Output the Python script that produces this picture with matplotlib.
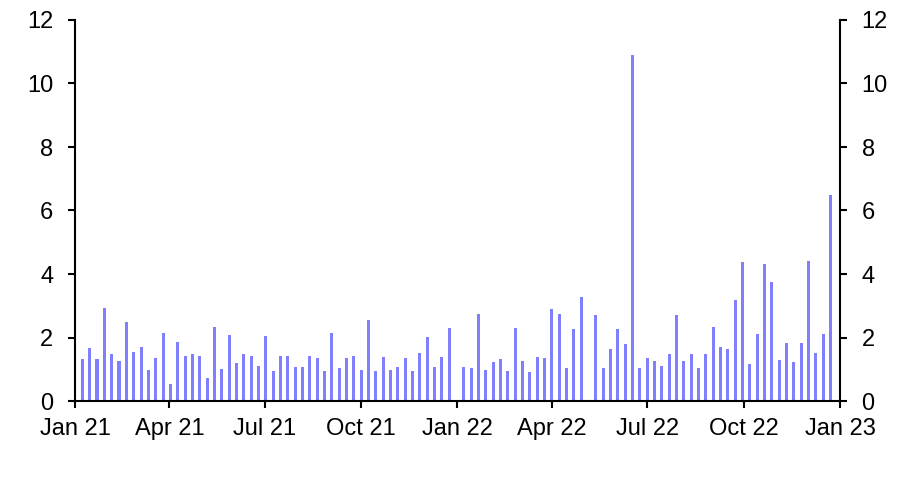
import datetime as dt

import matplotlib
matplotlib.use("Agg")
from matplotlib import pyplot as plt

plt.rcParams["font.family"] = ["Liberation Sans", "DejaVu Sans"]

# weekly values, first week ending Fri 8 Jan 2021
first_week = dt.date(2021, 1, 8)
values = [
    1.31, 1.66, 1.31, 2.92, 1.47, 1.25, 2.48, 1.53, 1.69, 0.98,
    1.34, 2.13, 0.53, 1.86, 1.41, 1.47, 1.41, 0.71, 2.32, 1.00,
    2.07, 1.19, 1.47, 1.41, 1.09, 2.04, 0.94, 1.41, 1.41, 1.06,
    1.06, 1.41, 1.34, 0.94, 2.13, 1.03, 1.34, 1.41, 0.97, 2.54,
    0.94, 1.38, 0.97, 1.06, 1.34, 0.94, 1.50, 2.01, 1.06, 1.38,
    2.29, 0.00, 1.06, 1.03, 2.73, 0.97, 1.22, 1.31, 0.94, 2.29,
    1.25, 0.90, 1.38, 1.34, 2.89, 2.73, 1.03, 2.26, 3.27, 0.00,
    2.70, 1.03, 1.63, 2.26, 1.79, 10.90, 1.03, 1.34, 1.25, 1.09,
    1.47, 2.70, 1.25, 1.47, 1.03, 1.47, 2.32, 1.69, 1.63, 3.17,
    4.37, 1.16, 2.10, 4.31, 3.74, 1.28, 1.82, 1.22, 1.82, 4.40,
    1.50, 2.10, 6.48,
]
dates = [first_week + dt.timedelta(weeks=i) for i in range(len(values))]

tick_dates = [dt.date(y, m, 1) for y in (2021, 2022) for m in (1, 4, 7, 10)] + [dt.date(2023, 1, 1)]
tick_labels = [d.strftime("%b %y") for d in tick_dates]
y_ticks = [0, 2, 4, 6, 8, 10, 12]

fig = plt.figure(figsize=(9.07, 4.9), dpi=100)
ax = fig.add_axes([75 / 907, 1 - 401 / 490, (840 - 75) / 907, (401 - 20) / 490])

ax.bar(dates, values, width=2.9, color="#8080ff", align="center")

ax.set_xlim(dt.date(2021, 1, 1), dt.date(2023, 1, 1))
ax.set_ylim(0, 12)
ax.set_xticks(tick_dates)
ax.set_xticklabels(tick_labels)
ax.set_yticks(y_ticks)

for side in ("left", "right", "bottom"):
    ax.spines[side].set_linewidth(1.5)
ax.spines["top"].set_visible(False)

ax.tick_params(axis="x", direction="out", length=5, width=1.5, labelsize=17, pad=7)
ax.tick_params(axis="y", direction="out", length=5, width=1.5, labelsize=17, pad=10.5,
               right=True, labelright=True)

fig.savefig("out.png", dpi=100)
